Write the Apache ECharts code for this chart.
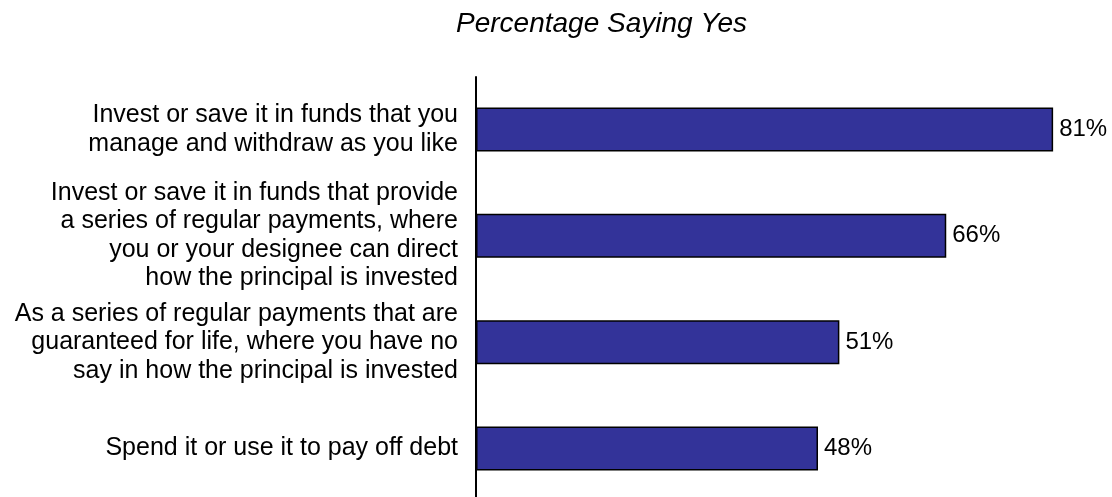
<!DOCTYPE html>
<html>
<head>
<meta charset="utf-8">
<script src="https://cdn.jsdelivr.net/npm/echarts@6/dist/echarts.min.js"></script>
<style>
html,body{margin:0;padding:0;background:#fff;}
#chart{width:1112px;height:497px;}
</style>
</head>
<body>
<div id="chart"></div>
<script>
const titleText = 'Percentage Saying Yes';
const categories = [
  'Invest or save it in funds that you\nmanage and withdraw as you like',
  'Invest or save it in funds that provide\na series of regular payments, where\nyou or your designee can direct\nhow the principal is invested',
  'As a series of regular payments that are\nguaranteed for life, where you have no\nsay in how the principal is invested',
  'Spend it or use it to pay off debt'
];
const values = [81, 66, 51, 48];

const FONT = '"Liberation Sans", Arial, sans-serif';
const chart = echarts.init(document.getElementById('chart'), null, {renderer: 'canvas'});
chart.setOption({
  animation: false,
  backgroundColor: '#ffffff',
  title: {
    text: titleText,
    left: 451,
    top: 5,
    textStyle: {fontFamily: FONT, fontSize: 28, fontStyle: 'italic', fontWeight: 'normal', color: '#000'}
  },
  grid: [
    {left: 476, top: 129.5, width: 627, height: 319, containLabel: false},
    {left: 476, top: 77, width: 627, bottom: 0, containLabel: false}
  ],
  xAxis: [
    {type: 'value', gridIndex: 0, min: 0, max: 88, show: false, splitLine: {show: false}},
    {type: 'value', gridIndex: 1, min: 0, max: 88, show: false, splitLine: {show: false}}
  ],
  yAxis: [
    {
      type: 'category',
      gridIndex: 0,
      data: categories,
      inverse: true,
      boundaryGap: false,
      axisLine: {show: false},
      axisTick: {show: false},
      splitLine: {show: false},
      axisLabel: {
        margin: 18,
        fontFamily: FONT,
        fontSize: 25,
        lineHeight: 28.5,
        color: '#000',
        align: 'right'
      }
    },
    {
      type: 'value',
      gridIndex: 1,
      min: 0, max: 1,
      axisLine: {show: true, lineStyle: {color: '#000', width: 2}},
      axisTick: {show: false},
      axisLabel: {show: false},
      splitLine: {show: false}
    }
  ],
  series: [{
    type: 'bar',
    xAxisIndex: 0,
    yAxisIndex: 0,
    data: values,
    barWidth: 44,
    z: 3,
    itemStyle: {color: '#333399', borderColor: '#000', borderWidth: 1.5},
    label: {
      show: true,
      position: 'right',
      distance: 6,
      formatter: '{c}%',
      fontFamily: FONT,
      fontSize: 24,
      color: '#000'
    }
  }]
});
</script>
</body>
</html>
